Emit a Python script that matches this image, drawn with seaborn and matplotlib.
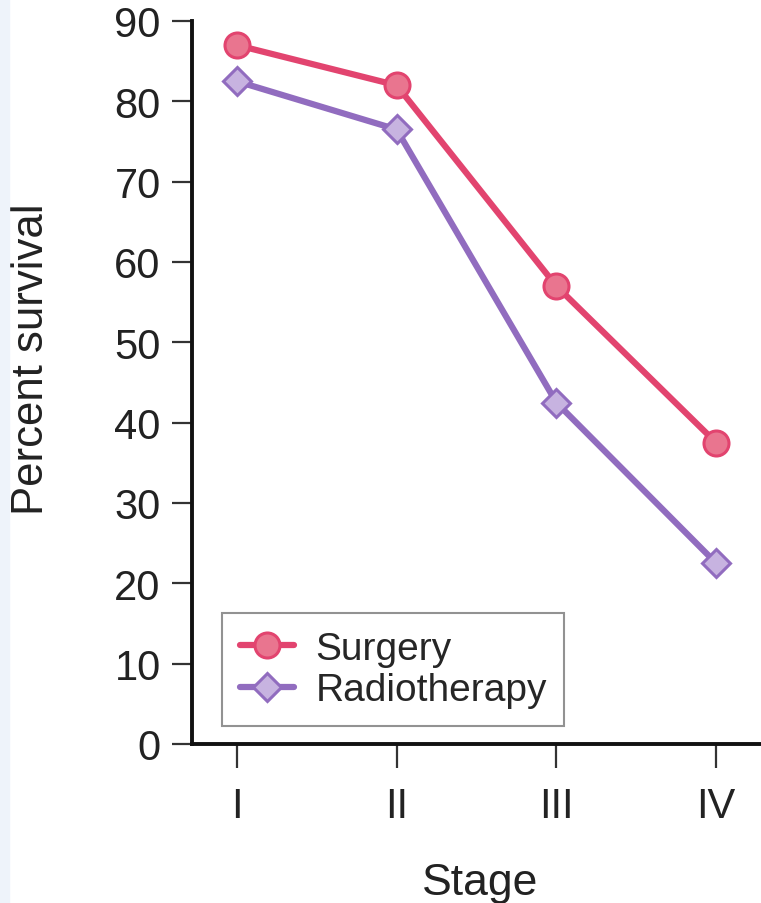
import matplotlib
matplotlib.use("Agg")
import matplotlib.pyplot as plt
import seaborn as sns
import pandas as pd
from matplotlib.patches import Rectangle

# ---- data ----
stages = ["I", "II", "III", "IV"]
surgery = [87.0, 82.0, 57.0, 37.5]
radiotherapy = [82.5, 76.5, 42.5, 22.5]
y_ticks = [0, 10, 20, 30, 40, 50, 60, 70, 80, 90]

surg_line = "#E2446F"
surg_face = "#E9758F"
radio_line = "#916CBF"
radio_face = "#C7B3E0"

sns.set_theme(style="ticks")
plt.rcParams["font.family"] = ["Liberation Sans", "DejaVu Sans"]

fig = plt.figure(figsize=(7.61, 9.04), dpi=100)
# light blue strip on the far left of the page
fig.patches.append(Rectangle((0, 0), 9 / 761, 1, transform=fig.transFigure,
                             color="#EEF3FA", zorder=0))
ax = fig.add_axes([192 / 761, 1 - 745 / 904, 569 / 761, 723 / 904])

df = pd.DataFrame({"stage": stages, "surgery": surgery, "radiotherapy": radiotherapy})

sns.lineplot(data=df, x="stage", y="surgery", ax=ax, sort=False,
             color=surg_line, linewidth=4.5, marker="o", markersize=18,
             markerfacecolor=surg_face, markeredgecolor=surg_line,
             markeredgewidth=2.2, label="Surgery", clip_on=False)
sns.lineplot(data=df, x="stage", y="radiotherapy", ax=ax, sort=False,
             color=radio_line, linewidth=4.5, marker="D", markersize=14,
             markerfacecolor=radio_face, markeredgecolor=radio_line,
             markeredgewidth=2.2, label="Radiotherapy", clip_on=False)

ax.set_xlim(-0.28, 3.28)
ax.set_ylim(0, 90)
ax.set_yticks(y_ticks)
ax.set_xticks(range(len(stages)))
ax.set_xticklabels(stages)

for side in ["top", "right"]:
    ax.spines[side].set_visible(False)
for side in ["left", "bottom"]:
    ax.spines[side].set_linewidth(2.8)
    ax.spines[side].set_color("#111111")

ax.tick_params(axis="y", length=14.5, width=1.6, pad=8, labelsize=30,
               color="#333333", labelcolor="#222222")
ax.tick_params(axis="x", length=17, width=1.6, pad=13, labelsize=30,
               color="#333333", labelcolor="#222222")

ax.set_ylabel("Percent survival", fontsize=31.5, color="#222222")
ax.yaxis.set_label_coords(-0.246, 0.534)
ax.set_xlabel("Stage", fontsize=32, color="#222222")
ax.xaxis.set_label_coords(0.506, -0.163)

leg = ax.legend(loc="lower left", bbox_to_anchor=(0.053, 0.025),
                borderaxespad=0, fontsize=28, frameon=True, fancybox=False,
                edgecolor="#777777", handlelength=1.4, handletextpad=0.55,
                labelspacing=0.15, borderpad=0.45)
leg.get_frame().set_linewidth(1.5)

fig.savefig("out.png", dpi=100)
